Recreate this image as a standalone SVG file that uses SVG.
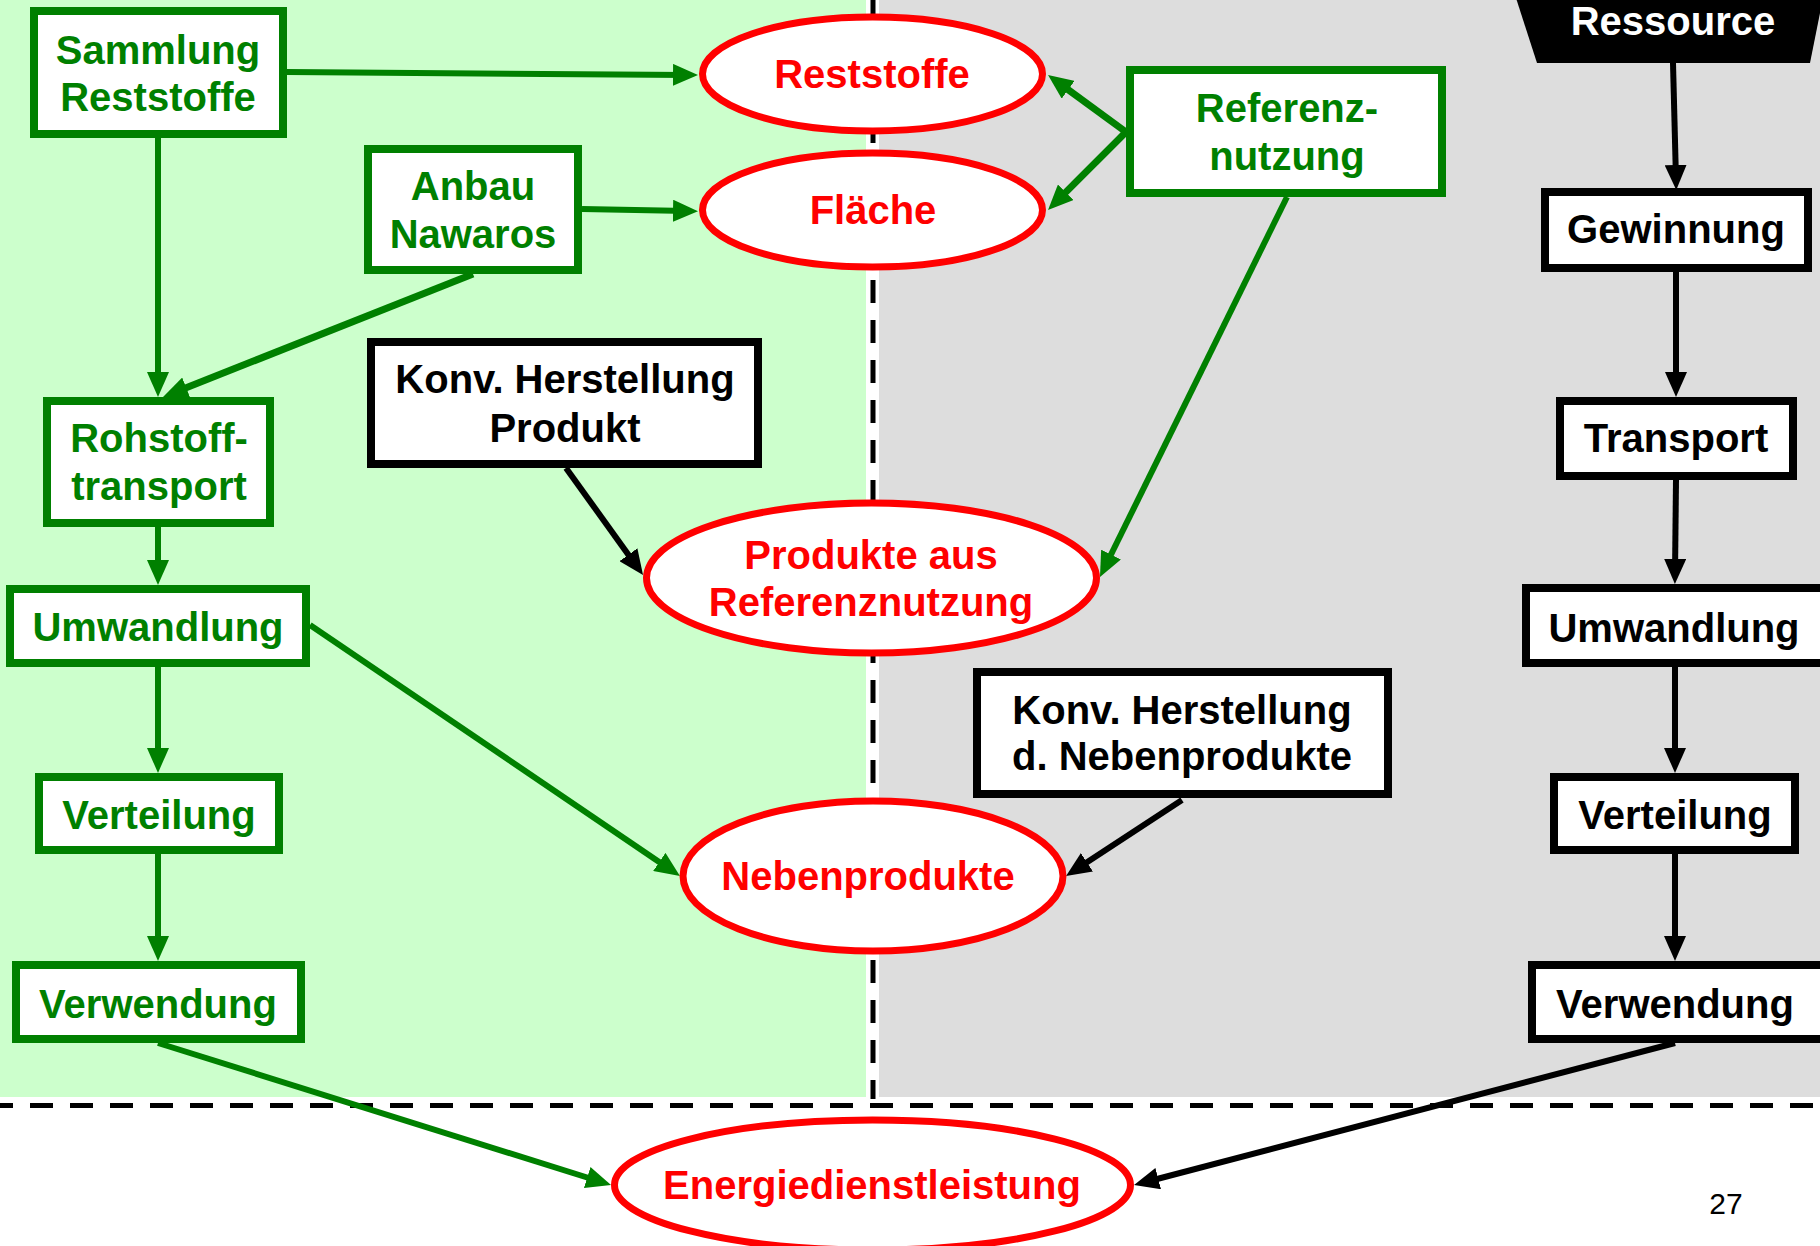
<svg xmlns="http://www.w3.org/2000/svg" width="1820" height="1246" viewBox="0 0 1820 1246">
<style>
text{font-family:"Liberation Sans",Arial,sans-serif;font-weight:bold;font-size:40px;text-anchor:middle}
.g{fill:#008000}.r{fill:#FF0000}.k{fill:#000}.w{fill:#FFF}
.gb{fill:#FFF;stroke:#008000;stroke-width:8}
.kb{fill:#FFF;stroke:#000;stroke-width:8}
.el{fill:#FFF;stroke:#FF0000;stroke-width:7}
.cg{fill:none;stroke:#008000;stroke-width:6;marker-end:url(#ag)}
.ck{fill:none;stroke:#000;stroke-width:6;marker-end:url(#ak)}
.dash{fill:none;stroke:#000;stroke-width:5;stroke-dasharray:23 17}
</style>
<defs>
<marker id="ag" markerUnits="userSpaceOnUse" markerWidth="25" markerHeight="22" viewBox="0 0 25 22" refX="15" refY="11" orient="auto"><path d="M0,0 L25,11 L0,22 z" fill="#008000"/></marker>
<marker id="ak" markerUnits="userSpaceOnUse" markerWidth="25" markerHeight="22" viewBox="0 0 25 22" refX="15" refY="11" orient="auto"><path d="M0,0 L25,11 L0,22 z" fill="#000"/></marker>
</defs>
<g id="background">
<rect x="0" y="0" width="1820" height="1246" fill="#FFF"/>
<rect x="0" y="0" width="866" height="1097" fill="#CCFFCC"/>
<rect x="879" y="0" width="941" height="1097" fill="#DDDDDD"/>
<line class="dash" x1="873" y1="0" x2="873" y2="1099"/>
<line class="dash" x1="-10" y1="1105.5" x2="1820" y2="1105.5"/>
</g>
<g id="connectors">
<path class="cg" d="M287,72 L688,75"/>
<path class="cg" d="M582,209 L688,211"/>
<path class="cg" d="M158,138 L158,387"/>
<path class="cg" d="M473,274 L172.3,393.3" style="stroke-width:7"/>
<path class="cg" d="M158,527 L158,575"/>
<path class="cg" d="M158,667 L158,763"/>
<path class="cg" d="M158,854 L158,951"/>
<path class="cg" d="M310,625 L671.7,870.4"/>
<path class="cg" d="M158,1043 L601.5,1182"/>
<path class="ck" d="M566,468 L637.2,566.9"/>
<path class="cg" d="M1126,132 L1056.1,80.9" style="stroke-width:7"/>
<path class="cg" d="M1126,132 L1055.1,202.9" style="stroke-width:7"/>
<path class="cg" d="M1287,197 L1104.4,568"/>
<path class="ck" d="M1182,800 L1074.4,870.5"/>
<path class="ck" d="M1675,1043 L1143.7,1182.5"/>
<path class="ck" d="M1673,63 L1676,180"/>
<path class="ck" d="M1676,272 L1676,387"/>
<path class="ck" d="M1676,480 L1675,574"/>
<path class="ck" d="M1675,667 L1675,763"/>
<path class="ck" d="M1675,854 L1675,951"/>
</g>
<g id="sammlung">
<rect class="gb" x="34" y="11" width="249" height="123"/>
<text class="g" x="158" y="64">Sammlung</text>
<text class="g" x="158" y="111">Reststoffe</text>
</g>
<g id="anbau">
<rect class="gb" x="368" y="149" width="210" height="121"/>
<text class="g" x="473" y="200">Anbau</text>
<text class="g" x="473" y="248">Nawaros</text>
</g>
<g id="konv-produkt">
<rect class="kb" x="371" y="342" width="387" height="122"/>
<text class="k" x="565" y="393">Konv. Herstellung</text>
<text class="k" x="565" y="442">Produkt</text>
</g>
<g id="rohstofftransport">
<rect class="gb" x="47" y="401" width="223" height="122"/>
<text class="g" x="159" y="452">Rohstoff-</text>
<text class="g" x="159" y="500">transport</text>
</g>
<g id="umwandlung-g">
<rect class="gb" x="10" y="589" width="296" height="74"/>
<text class="g" x="158" y="641">Umwandlung</text>
</g>
<g id="verteilung-g">
<rect class="gb" x="39" y="777" width="240" height="73"/>
<text class="g" x="159" y="829">Verteilung</text>
</g>
<g id="verwendung-g">
<rect class="gb" x="16" y="965" width="285" height="74"/>
<text class="g" x="158" y="1018">Verwendung</text>
</g>
<g id="reststoffe">
<ellipse class="el" cx="872.5" cy="74" rx="170" ry="57"/>
<text class="r" x="872" y="88">Reststoffe</text>
</g>
<g id="flaeche">
<ellipse class="el" cx="872.5" cy="210" rx="170" ry="57"/>
<text class="r" x="873" y="224">Fläche</text>
</g>
<g id="produkte">
<ellipse class="el" cx="871.5" cy="578" rx="225" ry="75"/>
<text class="r" x="871" y="569">Produkte aus</text>
<text class="r" x="871" y="616">Referenznutzung</text>
</g>
<g id="nebenprodukte">
<ellipse class="el" cx="873" cy="876" rx="190" ry="75"/>
<text class="r" x="868" y="890">Nebenprodukte</text>
</g>
<g id="energiedienstleistung">
<ellipse class="el" cx="872.5" cy="1185" rx="258" ry="65"/>
<text class="r" x="872" y="1199">Energiedienstleistung</text>
</g>
<g id="referenznutzung">
<rect class="gb" x="1130" y="70" width="312" height="123"/>
<text class="g" x="1287" y="122">Referenz-</text>
<text class="g" x="1287" y="170">nutzung</text>
</g>
<g id="konv-neben">
<rect class="kb" x="977" y="672" width="411" height="122"/>
<text class="k" x="1182" y="724">Konv. Herstellung</text>
<text class="k" x="1182" y="770">d. Nebenprodukte</text>
</g>
<g id="ressource">
<polygon points="1516,-2 1823,-2 1810,63 1537,63" fill="#000"/>
<text class="w" x="1673" y="35">Ressource</text>
</g>
<g id="gewinnung">
<rect class="kb" x="1545" y="192" width="263" height="76"/>
<text class="k" x="1676" y="243">Gewinnung</text>
</g>
<g id="transport">
<rect class="kb" x="1560" y="401" width="233" height="75"/>
<text class="k" x="1676" y="452">Transport</text>
</g>
<g id="umwandlung-k">
<rect class="kb" x="1526" y="588" width="300" height="75"/>
<text class="k" x="1674" y="642">Umwandlung</text>
</g>
<g id="verteilung-k">
<rect class="kb" x="1554" y="777" width="241" height="73"/>
<text class="k" x="1675" y="829">Verteilung</text>
</g>
<g id="verwendung-k">
<rect class="kb" x="1532" y="965" width="292" height="74"/>
<text class="k" x="1675" y="1018">Verwendung</text>
</g>
<text x="1726" y="1214" style="font-weight:normal;font-size:30px">27</text>
</svg>
